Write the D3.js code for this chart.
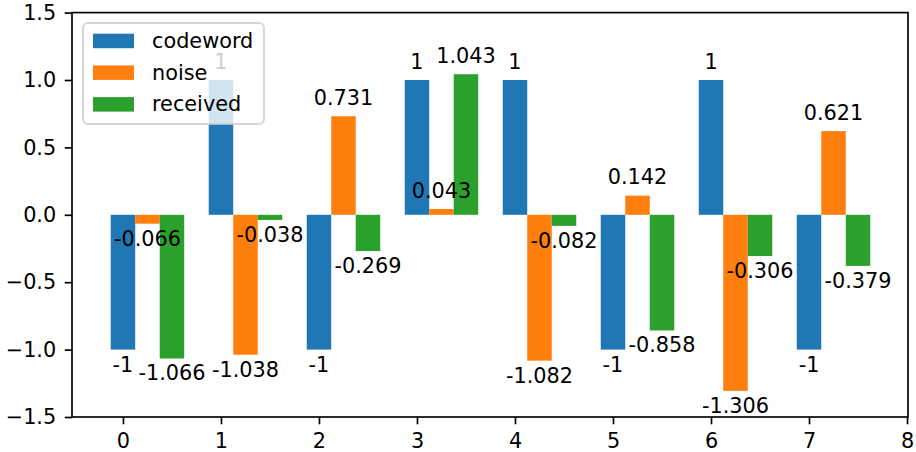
<!DOCTYPE html>
<html>
<head>
<meta charset="utf-8">
<script src="https://cdn.jsdelivr.net/npm/d3@7"></script>
<style>
  body { margin: 0; background: #fff; }
  svg { display: block; font-family: "DejaVu Sans", sans-serif; }
</style>
</head>
<body>
<svg id="chart" width="916" height="452"></svg>
<script>
// data
const positions = [0, 1, 2, 3, 4, 5, 6, 7];
const codeword = [-1, 1, -1, 1, 1, -1, 1, -1];
const noise = [-0.066, -1.038, 0.731, 0.043, -1.082, 0.142, -1.306, 0.621];
const received = [-1.066, -0.038, -0.269, 1.043, -0.082, -0.858, -0.306, -0.379];
const seriesNames = ['codeword', 'noise', 'received'];
const xTicks = [0, 1, 2, 3, 4, 5, 6, 7, 8];
const yTicks = [-1.5, -1.0, -0.5, 0.0, 0.5, 1.0, 1.5];

const colors = ['#1f77b4', '#ff7f0e', '#2ca02c'];
const barWidth = 0.25;
const fontSize = 20.8;

const svg = d3.select('#chart');
const plot = { left: 72, right: 908, top: 12.6, bottom: 417 };

const x = d3.scaleLinear().domain([-0.52, 8.01]).range([plot.left, plot.right]);
const y = d3.scaleLinear().domain([-1.5, 1.5]).range([plot.bottom, plot.top]);

const series = [codeword, noise, received].map((vals, k) => ({
  name: seriesNames[k],
  color: colors[k],
  points: vals.map((v, i) => ({ pos: positions[i] + k * barWidth, value: v, color: colors[k] }))
}));
const allPoints = series.flatMap(s => s.points);

// bars
svg.append('g').selectAll('rect')
  .data(allPoints).enter().append('rect')
  .attr('fill', d => d.color)
  .attr('x', d => x(d.pos - barWidth / 2))
  .attr('width', d => x(d.pos + barWidth / 2) - x(d.pos - barWidth / 2))
  .attr('y', d => Math.min(y(d.value), y(0)))
  .attr('height', d => Math.abs(y(d.value) - y(0)));

// bar labels, above every bar
const labelFmt = v => String(+v.toFixed(3));
svg.append('g').selectAll('text')
  .data(allPoints).enter().append('text')
  .attr('x', d => x(d.pos))
  .attr('y', d => d.value >= 0 ? y(d.value) - 11.2 : y(d.value) + 22)
  .attr('text-anchor', 'middle')
  .attr('fill', '#000')
  .style('font-size', fontSize + 'px')
  .text(d => labelFmt(d.value));

// axes
const minus = s => s.replace('-', '\u2212');
const xAxis = d3.axisBottom(x).tickValues(xTicks).tickSize(7.3).tickPadding(8.5).tickFormat(d3.format('d'));
const yAxis = d3.axisLeft(y).tickValues(yTicks).tickSize(7.3).tickPadding(8.5).tickFormat(d => minus(d3.format('.1f')(d)));

const gx = svg.append('g').attr('transform', `translate(0,${plot.bottom})`).call(xAxis);
const gy = svg.append('g').attr('transform', `translate(${plot.left},0)`).call(yAxis);
[gx, gy].forEach(g => {
  g.select('.domain').remove();
  g.selectAll('.tick line').attr('stroke', '#000').attr('stroke-width', 1.67);
  g.selectAll('.tick text').attr('fill', '#000').style('font-size', fontSize + 'px').attr('font-family', 'DejaVu Sans');
});

// spines
svg.append('rect')
  .attr('x', plot.left).attr('y', plot.top)
  .attr('width', plot.right - plot.left).attr('height', plot.bottom - plot.top)
  .attr('fill', 'none').attr('stroke', '#000').attr('stroke-width', 1.67);

// legend
const legend = svg.append('g');
legend.append('rect')
  .attr('x', 83).attr('y', 23).attr('width', 181).attr('height', 101)
  .attr('rx', 5).attr('ry', 5)
  .attr('fill', '#fff').attr('fill-opacity', 0.8)
  .attr('stroke', '#ccc').attr('stroke-opacity', 0.8).attr('stroke-width', 2);

const rows = legend.selectAll('g.row')
  .data(series).enter().append('g').attr('class', 'row')
  .attr('transform', (d, i) => `translate(0,${40.7 + i * 31.7})`);
rows.append('rect')
  .attr('x', 93).attr('y', -7).attr('width', 41).attr('height', 14.5)
  .attr('fill', d => d.color);
rows.append('text')
  .attr('x', 152).attr('y', 7.2)
  .style('font-size', fontSize + 'px')
  .text(d => d.name);
</script>
</body>
</html>
